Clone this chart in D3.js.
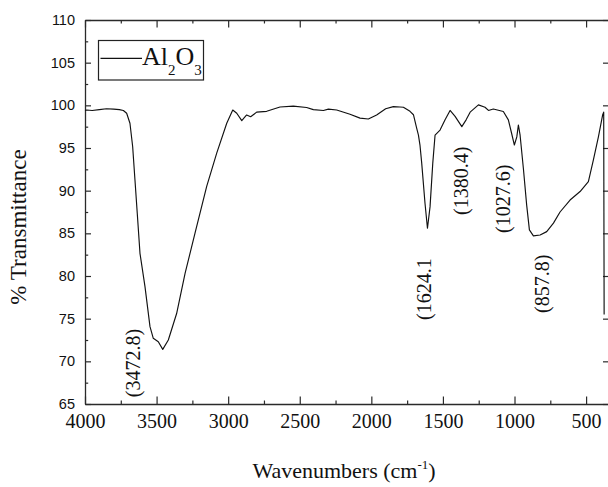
<!DOCTYPE html>
<html>
<head>
<meta charset="utf-8">
<script src="https://cdn.jsdelivr.net/npm/d3@7"></script>
<style>
  html, body { margin: 0; padding: 0; background: #fff; }
  svg { display: block; }
</style>
</head>
<body>
<svg id="chart" width="608" height="487"></svg>
<script>
// ---- data ----
const wavenumbers = [4000, 3988, 3950, 3900, 3850, 3800, 3760, 3732, 3709, 3686, 3667, 3651, 3635, 3616, 3581, 3546, 3523, 3488, 3457, 3418, 3360, 3301, 3232, 3150, 3080, 3010, 2968, 2940, 2905, 2871, 2843, 2801, 2731, 2638, 2545, 2452, 2405, 2335, 2300, 2242, 2149, 2079, 2021, 1963, 1900, 1846, 1800, 1776, 1730, 1706, 1683, 1671, 1660, 1648, 1625, 1608, 1590, 1571, 1555, 1520, 1485, 1450, 1415, 1368, 1338, 1310, 1252, 1206, 1182, 1148, 1078, 1043, 1020, 1001, 984, 973, 961, 938, 915, 896, 868, 821, 775, 728, 682, 612, 542, 484, 449, 414, 384, 377, 374];
const transmittance = [99.4, 99.45, 99.4, 99.5, 99.6, 99.55, 99.5, 99.4, 99.07, 97.9, 95.15, 91.25, 87.35, 82.66, 78.75, 74.06, 72.7, 72.3, 71.4, 72.5, 75.6, 80.3, 85.0, 90.5, 94.4, 97.9, 99.45, 99.07, 98.2, 98.87, 98.67, 99.2, 99.3, 99.8, 99.9, 99.75, 99.5, 99.4, 99.55, 99.45, 98.95, 98.5, 98.4, 98.87, 99.6, 99.85, 99.8, 99.78, 99.3, 98.9, 97.3, 96.5, 95.3, 93.2, 88.5, 85.6, 88.1, 93.2, 96.5, 97.1, 98.3, 99.4, 98.7, 97.5, 98.3, 99.2, 100.05, 99.78, 99.4, 99.57, 99.27, 98.3, 96.7, 95.35, 96.3, 97.7, 96.5, 92.6, 88.3, 85.4, 84.7, 84.8, 85.2, 86.2, 87.5, 88.9, 89.9, 91.05, 93.6, 96.3, 98.9, 99.2, 75.5];

const xMajorTicks = [4000, 3500, 3000, 2500, 2000, 1500, 1000, 500];
const xMinorTicks = [3750, 3250, 2750, 2250, 1750, 1250, 750];
const yMajorTicks = [65, 70, 75, 80, 85, 90, 95, 100, 105, 110];
const yMinorTicks = [67.5, 72.5, 77.5, 82.5, 87.5, 92.5, 97.5, 102.5, 107.5];

const peakLabels = ["(3472.8)", "(1624.1", "(1380.4)", "(1027.6)", "(857.8)"];
const peakLabelWn = [3665, 1632, 1373, 1080, 807];
const peakLabelT = [65.8, 74.84, 87.15, 85.04, 75.66];

const seriesName = "Al2O3";
const xTitle = "Wavenumbers (cm";
const yTitle = "% Transmittance";

// ---- layout ----
const svg = d3.select("#chart");
const mLeft = 85, mRight = 609, mTop = 20, mBottom = 404;
const serif = "'Liberation Serif','Times New Roman',serif";
const sans = "'Liberation Sans',Arial,sans-serif";
const axisColor = "#2a2a2a";

const x = d3.scaleLinear().domain([4000, 340]).range([mLeft, mRight]);
const y = d3.scaleLinear().domain([65, 110]).range([mBottom, mTop]);

function styleAxis(g) {
  g.selectAll("path.domain").attr("stroke", axisColor).attr("stroke-width", 1.3);
  g.selectAll(".tick line").attr("stroke", axisColor).attr("stroke-width", 1.2);
}

// bottom axis (major with labels)
const gxb = svg.append("g").attr("transform", `translate(0,${mBottom})`)
  .call(d3.axisBottom(x).tickValues(xMajorTicks).tickSize(-7.5).tickSizeOuter(0).tickPadding(10).tickFormat(d3.format("d")));
styleAxis(gxb);
gxb.selectAll("text").attr("font-family", serif).attr("font-size", 20).attr("fill", "#111");
const gxbm = svg.append("g").attr("transform", `translate(0,${mBottom})`)
  .call(d3.axisBottom(x).tickValues(xMinorTicks).tickSize(-3.5).tickSizeOuter(0).tickFormat(""));
styleAxis(gxbm); gxbm.select("path.domain").remove();

// top axis
const gxt = svg.append("g").attr("transform", `translate(0,${mTop})`)
  .call(d3.axisTop(x).tickValues(xMajorTicks).tickSize(-7.5).tickSizeOuter(0).tickFormat(""));
styleAxis(gxt);
const gxtm = svg.append("g").attr("transform", `translate(0,${mTop})`)
  .call(d3.axisTop(x).tickValues(xMinorTicks).tickSize(-3.5).tickSizeOuter(0).tickFormat(""));
styleAxis(gxtm); gxtm.select("path.domain").remove();

// left axis
const gyl = svg.append("g").attr("transform", `translate(${mLeft},0)`)
  .call(d3.axisLeft(y).tickValues(yMajorTicks).tickSize(-6).tickSizeOuter(0).tickPadding(10).tickFormat(d3.format("d")));
styleAxis(gyl);
gyl.selectAll("text").attr("font-family", sans).attr("font-size", 14.5).attr("fill", "#111");
const gylm = svg.append("g").attr("transform", `translate(${mLeft},0)`)
  .call(d3.axisLeft(y).tickValues(yMinorTicks).tickSize(-3.2).tickSizeOuter(0).tickFormat(""));
styleAxis(gylm); gylm.select("path.domain").remove();

// right axis (outside the visible area)
const gyr = svg.append("g").attr("transform", `translate(${mRight},0)`)
  .call(d3.axisRight(y).tickValues(yMajorTicks).tickSize(-6).tickSizeOuter(0).tickFormat(""));
styleAxis(gyr);

// spectrum line
const pts = wavenumbers.map((w, i) => [w, transmittance[i]]);
svg.append("path")
  .datum(pts)
  .attr("fill", "none")
  .attr("stroke", "#111")
  .attr("stroke-width", 1.15)
  .attr("stroke-linejoin", "round")
  .attr("d", d3.line().x(d => x(d[0])).y(d => y(d[1])));

// peak annotations (rotated)
peakLabels.forEach((t, i) => {
  const px = x(peakLabelWn[i]), py = y(peakLabelT[i]);
  svg.append("text")
    .attr("transform", `translate(${px},${py}) rotate(-90)`)
    .attr("dy", "0.35em")
    .attr("text-anchor", "start")
    .attr("font-family", serif)
    .attr("font-size", 20)
    .attr("fill", "#111")
    .text(t);
});

// legend
const lg = svg.append("g");
lg.append("rect").attr("x", 98.5).attr("y", 40.5).attr("width", 105).attr("height", 39.5)
  .attr("fill", "#fff").attr("stroke", "#222").attr("stroke-width", 1.2);
lg.append("line").attr("x1", 100.5).attr("x2", 142).attr("y1", 58.3).attr("y2", 58.3)
  .attr("stroke", "#111").attr("stroke-width", 1.3);
const lt = lg.append("text").attr("x", 142).attr("y", 65)
  .attr("font-family", serif).attr("font-size", 26).attr("fill", "#111");
lt.append("tspan").text(seriesName.slice(0, 2));
lt.append("tspan").attr("font-size", 15).attr("dy", 10).text(seriesName.slice(2, 3));
lt.append("tspan").attr("dy", -10).text(seriesName.slice(3, 4));
lt.append("tspan").attr("font-size", 15).attr("dy", 10).text(seriesName.slice(4, 5));

// axis titles
const xt = svg.append("text").attr("x", 344).attr("y", 478).attr("text-anchor", "middle")
  .attr("font-family", serif).attr("font-size", 22).attr("fill", "#111");
xt.append("tspan").text(xTitle);
xt.append("tspan").attr("font-size", 13).attr("dy", -9).text("-1");
xt.append("tspan").attr("dy", 9).text(")");

svg.append("text")
  .attr("transform", `translate(18,227) rotate(-90)`)
  .attr("dy", "0.35em")
  .attr("text-anchor", "middle")
  .attr("font-family", serif).attr("font-size", 23).attr("fill", "#111")
  .text(yTitle);
</script>
</body>
</html>
